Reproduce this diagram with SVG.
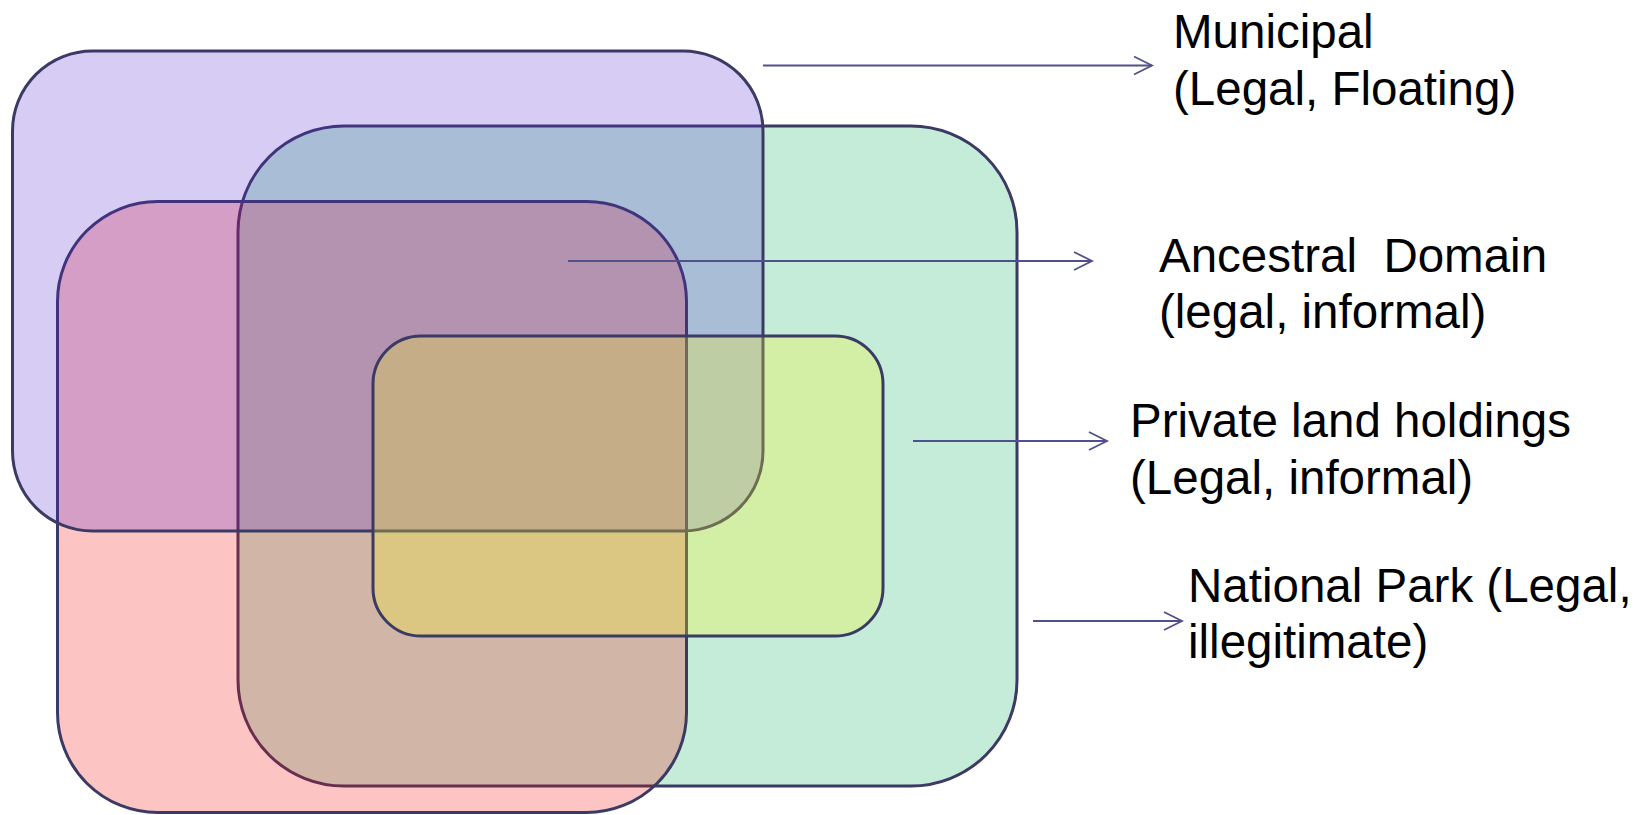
<svg xmlns="http://www.w3.org/2000/svg" width="1640" height="815" viewBox="0 0 1640 815">
<style>
.area{stroke:#3b3a65;stroke-width:3}
.lbl{font-family:"Liberation Sans",Arial,sans-serif;font-size:47.5px;fill:#000}
.conn{stroke:#50508c;stroke-width:1.8;fill:none}
</style>
<defs>
<marker id="arr" markerUnits="userSpaceOnUse" markerWidth="24" markerHeight="24" viewBox="-20 -12 24 24" refX="0" refY="0" orient="auto">
<path d="M-18,-9 L0,0 L-18,9" fill="none" stroke="#50508c" stroke-width="1.8"/>
</marker>
</defs>
<rect width="1640" height="815" fill="#fff"/>
<g id="national-park"><rect class="area" x="238" y="126" width="779" height="660" rx="106" fill="#c5ecd8"/></g>
<g id="ancestral-domain"><rect class="area" x="57.5" y="201.5" width="629" height="611" rx="100" fill="rgb(247,10,10)" fill-opacity="0.24"/></g>
<g id="municipal"><rect class="area" x="12.5" y="51" width="750.5" height="480" rx="80" fill="rgb(81,33,207)" fill-opacity="0.23"/></g>
<g id="private-land"><rect class="area" x="373" y="336" width="510" height="300" rx="48" fill="rgb(249,247,31)" fill-opacity="0.27"/></g>
<g id="connectors">
<line class="conn" x1="763" y1="65.5" x2="1152" y2="65.5" marker-end="url(#arr)"/>
<line class="conn" x1="568" y1="261" x2="1092" y2="261" marker-end="url(#arr)"/>
<line class="conn" x1="913" y1="441" x2="1107" y2="441" marker-end="url(#arr)"/>
<line class="conn" x1="1033" y1="621" x2="1182" y2="621" marker-end="url(#arr)"/>
</g>
<g id="label-municipal"><text class="lbl" x="1173" y="47.5">Municipal</text><text class="lbl" x="1173" y="104.5">(Legal, Floating)</text></g>
<g id="label-ancestral"><text class="lbl" x="1159" y="271.5" xml:space="preserve">Ancestral  Domain</text><text class="lbl" x="1159" y="328">(legal, informal)</text></g>
<g id="label-private"><text class="lbl" x="1130" y="436.5">Private land holdings</text><text class="lbl" x="1130" y="494">(Legal, informal)</text></g>
<g id="label-national"><text class="lbl" x="1188" y="601.5">National Park (Legal,</text><text class="lbl" x="1188" y="658">illegitimate)</text></g>
</svg>
